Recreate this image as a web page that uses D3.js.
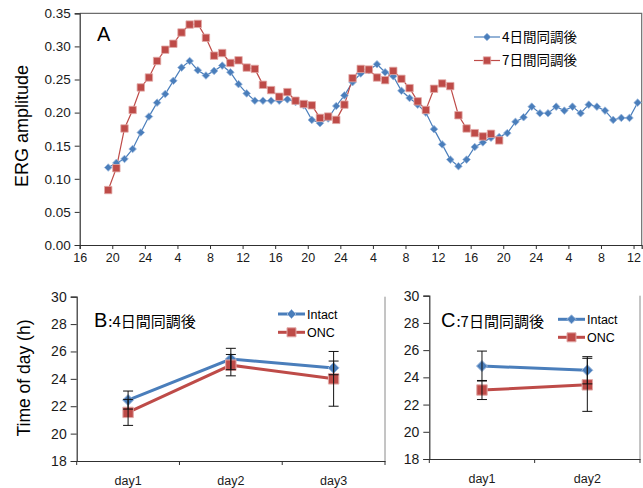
<!DOCTYPE html>
<html>
<head>
<meta charset="utf-8">
<script src="https://cdn.jsdelivr.net/npm/d3@7/dist/d3.min.js"></script>
<style>
  html, body { margin: 0; padding: 0; background: #fff; }
  svg { display: block; font-family: "Liberation Sans", Arial, sans-serif; }
  .cjk { font-family: "Noto Sans CJK JP", "Noto Sans CJK SC", sans-serif; }
</style>
</head>
<body>
<svg id="chart" width="643" height="488"></svg>
<script>
// ---- Panel A: ERG amplitude, hourly samples (clock time in hours from day-1 00:00) ----
const ergStartHour = 19.5;            // first sample time
const erg4Day = [0.117, 0.124, 0.130, 0.145, 0.170, 0.194, 0.215, 0.228, 0.248, 0.268,
  0.278, 0.264, 0.256, 0.263, 0.271, 0.261, 0.243, 0.229, 0.218, 0.218,
  0.218, 0.218, 0.220, 0.216, 0.211, 0.189, 0.184, 0.191, 0.210, 0.226,
  0.246, 0.259, 0.264, 0.273, 0.261, 0.255, 0.233, 0.222, 0.212, 0.200,
  0.175, 0.152, 0.129, 0.119, 0.129, 0.148, 0.155, 0.162, 0.163, 0.169,
  0.186, 0.193, 0.209, 0.199, 0.199, 0.209, 0.203, 0.209, 0.199, 0.212,
  0.209, 0.203, 0.189, 0.192, 0.192, 0.215];
const erg7Day = [0.083, 0.116, 0.176, 0.204, 0.238, 0.253, 0.278, 0.295, 0.304, 0.321,
  0.333, 0.334, 0.313, 0.286, 0.290, 0.275, 0.279, 0.268, 0.266, 0.242,
  0.234, 0.224, 0.231, 0.218, 0.213, 0.211, 0.192, 0.194, 0.189, 0.212,
  0.252, 0.266, 0.265, 0.253, 0.249, 0.263, 0.251, 0.237, 0.217, 0.204,
  0.236, 0.244, 0.240, 0.196, 0.176, 0.169, 0.164, 0.168, 0.158];
const ergSeriesNames = ["4日間同調後", "7日間同調後"];
const ergTickHours = [16, 20, 24, 28, 32, 36, 40, 44, 48, 52, 56, 60, 64, 68, 72, 76, 80, 84];
const ergYTicks = [0, 0.05, 0.10, 0.15, 0.20, 0.25, 0.30, 0.35];

// ---- Panels B and C: peak time of day (h), mean ± error ----
const peakSeriesNames = ["Intact", "ONC"];
const daysB = ["day1", "day2", "day3"];
const intactB = [22.45, 25.45, 24.8];
const intactBErr = [0.66, 0.78, 0.5];
const oncB = [21.55, 25.0, 24.0];
const oncBErr = [0.95, 0.78, 2.0];
const daysC = ["day1", "day2"];
const intactC = [24.83, 24.52];
const intactCErr = [1.1, 1.0];
const oncC = [23.07, 23.45];
const oncCErr = [0.7, 1.95];
const peakYTicks = [18, 20, 22, 24, 26, 28, 30];

const BLUE = "#4A7EBB", RED = "#BE4B48";
const BLUE_EDGE = "#9DB9DD", RED_EDGE = "#E2A9A7";
const AXIS = "#303030";

const svg = d3.select("#chart");

const diamond = r => `M0,${-r}L${r},0L0,${r}L${-r},0Z`;
const square = r => `M${-r},${-r}H${r}V${r}H${-r}Z`;

function styleAxis(a, size) {
  a.select(".domain").attr("stroke", AXIS).attr("stroke-width", 1.2);
  a.selectAll(".tick line").attr("stroke", AXIS);
  a.selectAll("text").attr("fill", "#1a1a1a").attr("font-size", size)
    .attr("font-family", "Liberation Sans, Arial, sans-serif");
}

// ================= Panel A =================
(function () {
  const left = 79.7, right = 641.7, top = 13.3, bottom = 245;
  const x = d3.scaleLinear().domain([16, 85]).range([left, right]);
  const y = d3.scaleLinear().domain([0, 0.35]).range([bottom, top]);
  const g = svg.append("g");

  // plot frame: top and right edges
  g.append("path").attr("d", `M${left},${top}H${right}V${bottom}`)
    .attr("fill", "none").attr("stroke", "#6d6d6d").attr("stroke-width", 1.2);

  const yAxis = d3.axisLeft(y).tickValues(ergYTicks).tickFormat(d3.format(".2f"))
    .tickSize(5).tickPadding(4);
  const ya = g.append("g").attr("transform", `translate(${left},0)`).call(yAxis);
  const xAxis = d3.axisBottom(x).tickValues(ergTickHours)
    .tickFormat(h => { const m = h % 24; return m === 0 ? "24" : String(m); })
    .tickSize(4).tickPadding(4);
  const xa = g.append("g").attr("transform", `translate(0,${bottom})`).call(xAxis);
  styleAxis(ya, 13.5);
  styleAxis(xa, 12.5);

  const series = [
    { vals: erg4Day, color: BLUE, edge: BLUE_EDGE, shape: diamond(3.8), w: 1.2 },
    { vals: erg7Day, color: RED, edge: RED_EDGE, shape: square(3.7), w: 1.2 }
  ];
  const line = d3.line().x((d, i) => x(ergStartHour + i)).y(d => y(d));
  series.forEach(s => {
    g.append("path").datum(s.vals).attr("d", line)
      .attr("fill", "none").attr("stroke", s.color).attr("stroke-width", s.w);
  });
  series.forEach(s => {
    g.append("g").selectAll("path").data(s.vals).join("path")
      .attr("d", s.shape)
      .attr("transform", (d, i) => `translate(${x(ergStartHour + i)},${y(d)})`)
      .attr("fill", s.color).attr("stroke", s.edge).attr("stroke-width", 0.8);
  });

  g.append("text").attr("x", 97).attr("y", 41).attr("font-size", 20).text("A");

  g.append("text").attr("transform", "translate(27.5,126) rotate(-90)")
    .attr("text-anchor", "middle").attr("font-size", 18).text("ERG amplitude");

  // legend
  series.forEach((s, k) => {
    const ly = 37 + k * 23.5;
    g.append("line").attr("x1", 474).attr("x2", 500).attr("y1", ly).attr("y2", ly)
      .attr("stroke", s.color).attr("stroke-width", 1.2);
    g.append("path").attr("d", s.shape).attr("transform", `translate(487,${ly})`)
      .attr("fill", s.color).attr("stroke", s.edge).attr("stroke-width", 0.8);
    g.append("text").attr("class", "cjk").attr("x", 502).attr("y", ly + 4.5)
      .attr("font-size", 13.5).text(ergSeriesNames[k]);
  });
})();

// ================= Panels B and C =================
function peakPanel(opt) {
  const { left, right, top, bottom, days, intact, intactErr, onc, oncErr } = opt;
  const x = d3.scaleBand().domain(days).range([left, right]);
  const y = d3.scaleLinear().domain([18, 30]).range([bottom, top]);
  const g = svg.append("g");

  g.append("line").attr("x1", right).attr("x2", right).attr("y1", top).attr("y2", bottom)
    .attr("stroke", "#8a8a8a").attr("stroke-width", 1);

  const ya = g.append("g").attr("transform", `translate(${left},0)`)
    .call(d3.axisLeft(y).tickValues(peakYTicks).tickSize(6).tickPadding(4));
  const xa = g.append("g").attr("transform", `translate(0,${bottom})`)
    .call(d3.axisBottom(x).tickSize(0).tickPadding(15));
  // category boundary tick marks
  const bounds = days.map(d => x(d)).concat([right]);
  g.append("g").selectAll("line").data(bounds).join("line")
    .attr("x1", d => d).attr("x2", d => d).attr("y1", bottom).attr("y2", bottom + 4)
    .attr("stroke", AXIS);
  styleAxis(ya, 14);
  styleAxis(xa, 12.5);

  const cx = d => x(d) + x.bandwidth() / 2;
  const series = [
    { vals: intact, err: intactErr, color: BLUE, edge: BLUE_EDGE, shape: diamond(5.5) },
    { vals: onc, err: oncErr, color: RED, edge: RED_EDGE, shape: square(5.2) }
  ];
  const line = d3.line().x((d, i) => cx(days[i])).y(d => y(d));
  series.forEach(s => {
    g.append("path").datum(s.vals).attr("d", line)
      .attr("fill", "none").attr("stroke", s.color).attr("stroke-width", 3);
  });
  series.forEach(s => {
    g.append("g").selectAll("path").data(s.vals).join("path")
      .attr("d", s.shape)
      .attr("transform", (d, i) => `translate(${cx(days[i])},${y(d)})`)
      .attr("fill", s.color).attr("stroke", s.edge).attr("stroke-width", 1);
  });
  // error bars drawn over the markers
  series.forEach(s => {
    const eb = g.append("g").attr("stroke", "#111").attr("stroke-width", 1);
    s.vals.forEach((v, i) => {
      const px = cx(days[i]);
      eb.append("line").attr("x1", px).attr("x2", px)
        .attr("y1", y(v + s.err[i])).attr("y2", y(v - s.err[i]));
      [v + s.err[i], v - s.err[i]].forEach(e => {
        eb.append("line").attr("x1", px - 5).attr("x2", px + 5)
          .attr("y1", y(e)).attr("y2", y(e));
      });
    });
  });

  // panel title
  const t = g.append("text").attr("x", opt.titleX).attr("y", opt.titleY);
  t.append("tspan").attr("font-size", 20).text(opt.letter);
  t.append("tspan").attr("class", "cjk").attr("font-size", 15).attr("dx", 1).text(":" + opt.condition);

  // legend
  series.forEach((s, k) => {
    const ly = opt.legY + k * opt.legGap;
    g.append("line").attr("x1", opt.legX).attr("x2", opt.legX + 27).attr("y1", ly).attr("y2", ly)
      .attr("stroke", s.color).attr("stroke-width", 3);
    g.append("path").attr("d", k === 0 ? diamond(4.5) : square(4.5))
      .attr("transform", `translate(${opt.legX + 13.5},${ly})`)
      .attr("fill", s.color).attr("stroke", s.edge).attr("stroke-width", 1);
    g.append("text").attr("x", opt.legX + 29).attr("y", ly + 4.5)
      .attr("font-size", 12.5).text(peakSeriesNames[k]);
  });
}

peakPanel({
  left: 76.7, right: 385, top: 296.7, bottom: 461,
  days: daysB, intact: intactB, intactErr: intactBErr, onc: oncB, oncErr: oncBErr,
  letter: "B", condition: "4日間同調後", titleX: 94, titleY: 327,
  legX: 278, legY: 314, legGap: 18.3
});
peakPanel({
  left: 429.3, right: 640, top: 295.7, bottom: 459,
  days: daysC, intact: intactC, intactErr: intactCErr, onc: oncC, oncErr: oncCErr,
  letter: "C", condition: "7日間同調後", titleX: 441, titleY: 327,
  legX: 558, legY: 319.3, legGap: 18
});

svg.append("text").attr("transform", "translate(30,378) rotate(-90)")
  .attr("text-anchor", "middle").attr("font-size", 17.5).text("Time of day (h)");
</script>
</body>
</html>
